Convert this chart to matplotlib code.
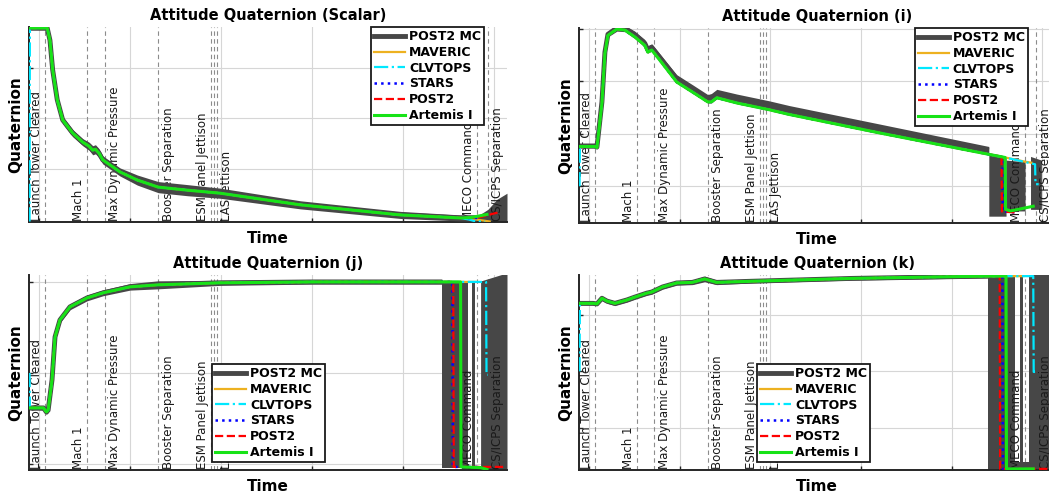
import numpy as np
import matplotlib.pyplot as plt
from matplotlib.lines import Line2D

# mission events, seconds from liftoff
event_t = [7, 53, 72, 131, 189, 192, 195, 481, 493]
event_lbl = ['Launch Tower Cleared', 'Mach 1', 'Max Dynamic Pressure', 'Booster Separation',
             'ESM Panel Jettison', '', 'LAS Jettison', 'MECO Command', 'CS/ICPS Separation']
event_side = ['left', 'left', 'right', 'right', 'left', '', 'right', 'left', 'right']

sims = ['MAVERIC', 'CLVTOPS', 'STARS', 'POST2', 'Artemis I']
style = {
    'MAVERIC': dict(color='#EDB120', ls='-', lw=1.6),
    'CLVTOPS': dict(color='#00E8FF', ls='-.', lw=1.6),
    'STARS': dict(color='#0000FF', ls=':', lw=1.8),
    'POST2': dict(color='#FF0000', ls='--', lw=1.6),
    'Artemis I': dict(color='#17E317', ls='-', lw=2.2),
}
mc_color = '#474747'

# ---- scalar component
q0_t = [-10, 9, 12, 15, 20, 26, 37, 48, 55, 59, 62, 66, 70, 89, 108, 131, 163, 199, 287, 397, 463, 481]
q0_nom = [0.379, 0.379, 0.355, 0.296, 0.237, 0.197, 0.171, 0.153, 0.145, 0.137, 0.139, 0.131, 0.118,
          0.094, 0.078, 0.064, 0.058, 0.052, 0.029, 0.009, 0.003, 0.003]
q0_mcw = [0.004, 0.004, 0.006, 0.007, 0.007, 0.007, 0.007, 0.007, 0.008, 0.009, 0.009, 0.009, 0.008,
          0.008, 0.010, 0.011, 0.011, 0.010, 0.008, 0.007, 0.006, 0.006]
q0_tails = {
    'MAVERIC': ([463, 480, 495], [0.003, 0.0, -0.004]),
    'CLVTOPS': ([463, 472, 480, 490], [0.003, 0.0, -0.004, -0.004]),
    'STARS': ([481, 492], [0.003, 0.012]),
    'POST2': ([481, 500, 505], [0.003, 0.012, 0.014]),
    'Artemis I': ([475, 492], [0.004, 0.010]),
}
q0_clv_start = -0.004
q0_blocks = [([481, 493, 503, 514], [-0.005] * 4, [0.006, 0.02, 0.04, 0.052])]

# ---- i component
qi_t = [-10, 6.6, 8.8, 14.3, 17.6, 20.9, 30.8, 39.6, 50.5, 61.5, 64.8, 69.2, 78, 96.7, 114, 131,
        135, 141, 163, 199, 221, 320, 441]
qi_nom = [0.176, 0.176, 0.174, 0.259, 0.354, 0.388, 0.400, 0.398, 0.385, 0.369, 0.356, 0.360, 0.341,
          0.299, 0.280, 0.261, 0.261, 0.269, 0.259, 0.246, 0.237, 0.202, 0.161]
qi_mc = [0.177, 0.177, 0.175, 0.261, 0.356, 0.390, 0.402, 0.401, 0.389, 0.373, 0.361, 0.365, 0.346,
         0.305, 0.286, 0.267, 0.268, 0.276, 0.267, 0.254, 0.245, 0.210, 0.168]
qi_mcw = [0.004, 0.004, 0.004, 0.005, 0.005, 0.005, 0.006, 0.006, 0.007, 0.007, 0.007, 0.007, 0.007,
          0.008, 0.008, 0.008, 0.009, 0.009, 0.009, 0.009, 0.009, 0.009, 0.008]
qi_tails = {
    'MAVERIC': ([459, 481, 488], [0.155, 0.147, 0.145]),
    'CLVTOPS': ([459, 492, 492.5, 496], [0.155, 0.142, 0.104, 0.104]),
    'STARS': ([456, 456.5, 470], [0.156, 0.052, 0.050]),
    'POST2': ([455, 455.5, 470], [0.157, 0.052, 0.050]),
    'Artemis I': ([459, 459.5, 465, 490], [0.155, 0.056, 0.053, 0.062]),
}
qi_clv_start = 0.100
qi_blocks = [([441, 460], [0.043, 0.043], [0.161, 0.155]),
             ([460, 481], [0.053, 0.053], [0.150, 0.147]),
             ([487, 499], [0.056, 0.056], [0.157, 0.150])]

# ---- j component
qj_t = [-10, 5, 8, 10, 14.3, 17.6, 23, 34, 52.7, 70.3, 100, 130.8, 199, 300, 443]
qj_nom = [0.308, 0.308, 0.286, 0.295, 0.462, 0.698, 0.791, 0.863, 0.912, 0.940, 0.973, 0.984,
          0.995, 1.0, 1.0]
qj_mcw = [0.012, 0.012, 0.014, 0.014, 0.016, 0.016, 0.016, 0.016, 0.016, 0.016, 0.018, 0.022,
          0.014, 0.012, 0.012]
qj_tails = {
    'MAVERIC': ([481], [1.0]),
    'CLVTOPS': ([491, 491.5, 493], [1.0, 0.49, 0.49]),
    'STARS': ([454, 454.5, 485], [1.0, -0.016, -0.016]),
    'POST2': ([455, 455.5, 512], [1.0, -0.016, -0.016]),
    'Artemis I': ([463, 463.5, 485, 492], [1.0, -0.016, -0.02, -0.03]),
}
qj_clv_start = 0.5
qj_blocks = [([443, 471], [-0.022, -0.022], [1.005, 1.005]),
             ([476, 479], [-0.022, -0.022], [1.005, 1.005]),
             ([485, 514], [-0.033, -0.033], [1.005, 1.05]),
             ([471, 485], [-0.033, -0.033], [-0.01, -0.01])]

# ---- k component
qk_t = [-10, 4.4, 8.8, 14.3, 19.8, 28.6, 41.8, 50.5, 63.7, 69.2, 81.3, 96.7, 114, 127.5, 140.7,
        180, 290, 400, 440]
qk_nom = [0.320, 0.320, 0.319, 0.329, 0.324, 0.320, 0.326, 0.331, 0.338, 0.340, 0.349, 0.356,
          0.357, 0.363, 0.357, 0.359, 0.364, 0.367, 0.368]
qk_mcw = [0.003, 0.003, 0.003, 0.004, 0.004, 0.004, 0.004, 0.004, 0.004, 0.004, 0.004, 0.004,
          0.004, 0.005, 0.004, 0.003, 0.003, 0.003, 0.003]
qk_tails = {
    'MAVERIC': ([479], [0.368]),
    'CLVTOPS': ([490, 490.5, 492], [0.368, 0.199, 0.199]),
    'STARS': ([456, 456.5, 480], [0.368, 0.028, 0.028]),
    'POST2': ([453, 453.5, 514], [0.368, 0.028, 0.028]),
    'Artemis I': ([460, 460.5, 490], [0.368, 0.028, 0.028]),
}
qk_clv_start = 0.200
qk_blocks = [([440, 470], [0.026, 0.026], [0.372, 0.372]),
             ([475, 479], [0.026, 0.026], [0.372, 0.372]),
             ([485, 514], [0.026, 0.026], [0.372, 0.372]),
             ([470, 485], [0.026, 0.026], [0.04, 0.04])]

xlim = (-11, 514)
xticks = [0, 100, 200, 300, 400, 500]


def draw_panel(ax, title, t, nom, mcw, tails, clv_start, blocks, ylim, yticks,
               leg_loc, leg_anchor, mc=None):
    t = np.asarray(t, float)
    nom = np.asarray(nom, float)
    mc = nom if mc is None else np.asarray(mc, float)
    mcw = np.asarray(mcw, float)

    ax.set_xlim(*xlim)
    ax.set_ylim(*ylim)
    ax.set_xticks(xticks)
    ax.set_yticks(yticks)
    ax.set_xticklabels([])
    ax.set_yticklabels([])
    ax.grid(True, color='#d6d6d6', lw=0.8)
    ax.set_axisbelow(True)
    ax.tick_params(direction='in', length=3, width=1, colors='#262626')
    for s in ['top', 'right']:
        ax.spines[s].set_visible(False)
    for s in ['left', 'bottom']:
        ax.spines[s].set_linewidth(1.4)
        ax.spines[s].set_color('#262626')

    # event markers
    for et, lbl, side in zip(event_t, event_lbl, event_side):
        ax.axvline(et, color='#8c8c8c', ls=(0, (4, 3)), lw=0.8, zorder=1)
        if lbl:
            dx = -1.5 if side == 'left' else 2.5
            ax.annotate(lbl, xy=(et, 0), xycoords=('data', 'axes fraction'),
                        xytext=(dx, 1), textcoords='offset points', rotation=90,
                        ha='right' if side == 'left' else 'left', va='bottom',
                        fontsize=8.5, color='#1a1a1a', zorder=3)

    # POST2 Monte Carlo dispersions
    for bt, blo, bhi in blocks:
        ax.fill_between(bt, blo, bhi, color=mc_color, lw=0, zorder=2)
    keep = t <= blocks[0][0][0]
    ax.fill_between(t[keep], mc[keep] - mcw[keep], mc[keep] + mcw[keep],
                    color=mc_color, lw=0, zorder=4)
    ax.plot(t[keep], mc[keep], color=mc_color, lw=3.5, zorder=4, solid_capstyle='butt')

    # simulation traces
    handles = []
    for i, name in enumerate(sims):
        tt, vv = tails[name]
        m = t < tt[0]
        st = np.concatenate([t[m], tt])
        sv = np.concatenate([nom[m], vv])
        if name == 'CLVTOPS':
            st = np.concatenate([[t[0] - 0.4], st])
            sv = np.concatenate([[clv_start], sv])
        ln, = ax.plot(st, sv, zorder=5 + i, label=name, **style[name])
        handles.append(ln)

    ax.set_title(title, fontsize=10.5, fontweight='bold', pad=5)
    ax.set_xlabel('Time', fontsize=11, fontweight='bold', labelpad=3)
    ax.set_ylabel('Quaternion', fontsize=11, fontweight='bold', labelpad=0.5)

    leg_handles = [Line2D([], [], color=mc_color, lw=3.5)] + handles
    leg = ax.legend(leg_handles, ['POST2 MC'] + sims, loc=leg_loc, bbox_to_anchor=leg_anchor,
                    prop=dict(weight='bold', size=9), handlelength=2.5, handletextpad=0.3,
                    labelspacing=0.22, borderpad=0.25, borderaxespad=0, fancybox=False,
                    framealpha=1, edgecolor='#1a1a1a')
    leg.get_frame().set_linewidth(1.3)
    leg.set_zorder(20)


W, H = 1049, 496
fig = plt.figure(figsize=(W / 100, H / 100), dpi=100)
ax_s = fig.add_axes([29 / W, (H - 222) / H, 478 / W, 195 / H])
ax_i = fig.add_axes([579 / W, (H - 223) / H, 476 / W, 195 / H])
ax_j = fig.add_axes([29 / W, (H - 470) / H, 478 / W, 195 / H])
ax_k = fig.add_axes([579 / W, (H - 470) / H, 476 / W, 195 / H])

draw_panel(ax_s, 'Attitude Quaternion (Scalar)', q0_t, q0_nom, q0_mcw, q0_tails, q0_clv_start,
           q0_blocks, (-0.005, 0.381), [0.1, 0.2, 0.3], 'upper right', (0.952, 1.0))
draw_panel(ax_i, 'Attitude Quaternion (i)', qi_t, qi_nom, qi_mcw, qi_tails, qi_clv_start,
           qi_blocks, (0.030, 0.402), [0.1, 0.2, 0.3, 0.4], 'upper right', (0.943, 1.0),
           mc=qi_mc)
draw_panel(ax_j, 'Attitude Quaternion (j)', qj_t, qj_nom, qj_mcw, qj_tails, qj_clv_start,
           qj_blocks, (-0.033, 1.038), [0.0, 0.5, 1.0], 'lower left', (0.383, 0.041))
draw_panel(ax_k, 'Attitude Quaternion (k)', qk_t, qk_nom, qk_mcw, qk_tails, qk_clv_start,
           qk_blocks, (0.026, 0.370), [0.1, 0.2, 0.3], 'lower left', (0.374, 0.041))

fig.savefig('out.png', dpi=100)
